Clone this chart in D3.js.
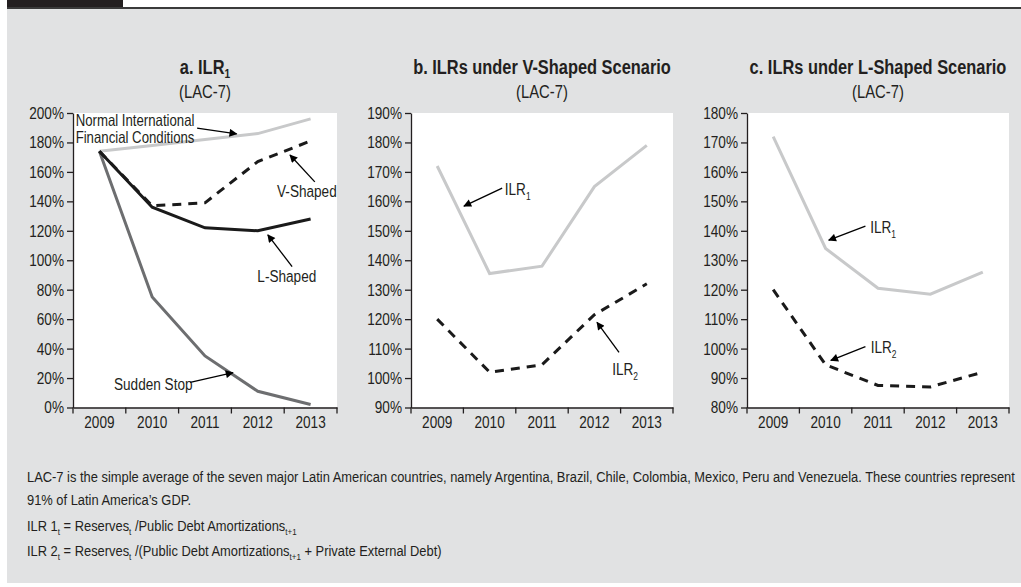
<!DOCTYPE html>
<html>
<head>
<meta charset="utf-8">
<script src="https://cdn.jsdelivr.net/npm/d3@7"></script>
<style>
  body { margin: 0; background: #fff; }
  svg text { font-family: "Liberation Sans", Arial, sans-serif; fill: #231f20; }
</style>
</head>
<body>
<script>
const years = [2009, 2010, 2011, 2012, 2013];

// panel a: ILR1 under the four scenarios
const normalA = [174, 178, 182, 186, 196];
const vShapedA = [174, 137, 139, 167, 181];
const lShapedA = [174, 136, 122, 120, 128];
const suddenStopA = [174, 75, 35, 11, 2];

// panel b: V-shaped scenario
const ilr1V = [172, 135.5, 138, 165, 179];
const ilr2V = [120, 102, 104.5, 121.5, 132];

// panel c: L-shaped scenario
const ilr1L = [172, 134, 120.5, 118.5, 126];
const ilr2L = [120, 94.5, 87.5, 87, 92];

const ticksA = [0, 20, 40, 60, 80, 100, 120, 140, 160, 180, 200];
const ticksB = [90, 100, 110, 120, 130, 140, 150, 160, 170, 180, 190];
const ticksC = [80, 90, 100, 110, 120, 130, 140, 150, 160, 170, 180];

const W = 1021, H = 587;
const svg = d3.select("body").append("svg").attr("width", W).attr("height", H);

// frame
svg.append("rect").attr("x", 7).attr("y", 9).attr("width", W - 7).attr("height", 574).attr("fill", "#e1e2e3");
svg.append("rect").attr("x", 7).attr("y", 0).attr("width", 116).attr("height", 8).attr("fill", "#231f20");
svg.append("rect").attr("x", 7).attr("y", 7).attr("width", W - 7).attr("height", 2).attr("fill", "#3a3a3a");

const defs = svg.append("defs");
defs.append("marker")
  .attr("id", "arrow")
  .attr("viewBox", "0 0 10 10")
  .attr("refX", 9).attr("refY", 5)
  .attr("markerWidth", 11).attr("markerHeight", 8)
  .attr("markerUnits", "userSpaceOnUse")
  .attr("orient", "auto")
  .append("path").attr("d", "M0,0 L10,5 L0,10 Z").attr("fill", "#000");

// text with subscripts: parts are strings or {sub: "..."}
function sub(textSel, parts, size, drop = 0.28) {
  let back = 0;
  parts.forEach(p => {
    if (typeof p === "string") {
      textSel.append("tspan").attr("dy", back ? -back : null).text(p);
      back = 0;
    } else {
      const d = Math.round(size * drop);
      textSel.append("tspan").attr("dy", d).attr("font-size", size * 0.62).text(p.sub);
      back = d;
    }
  });
}

const panels = [
  {
    title: ["a. ILR", { sub: "1" }], x0: 73, x1: 337, domain: [0, 200], ticks: ticksA,
    series: [
      { values: normalA, color: "#c8c9ca" },
      { values: suddenStopA, color: "#6d6e70" },
      { values: lShapedA, color: "#1a1a1a" },
      { values: vShapedA, color: "#1a1a1a", dash: "9,7" }
    ],
    notes: [
      { lines: ["Normal International", "Financial Conditions"], anchor: "start", tx: 2008.55, ty: [191.5, 179.7],
        from: [2010.85, 189.8], to: [2011.6, 185.8] },
      { lines: ["V-Shaped"], anchor: "middle", tx: 2012.93, ty: [143], from: [2013.08, 153.2], to: [2012.61, 171.5] },
      { lines: ["L-Shaped"], anchor: "middle", tx: 2012.55, ty: [85.4], from: [2012.65, 95.6], to: [2012.19, 117.3] },
      { lines: ["Sudden Stop"], anchor: "middle", tx: 2010.02, ty: [12.2], from: [2010.72, 17], to: [2011.53, 23.7] }
    ]
  },
  {
    title: ["b. ILRs under V-Shaped Scenario"], x0: 411, x1: 673, domain: [90, 190], ticks: ticksB,
    series: [
      { values: ilr1V, color: "#c8c9ca" },
      { values: ilr2V, color: "#1a1a1a", dash: "9,7" }
    ],
    notes: [
      { lines: [["ILR", { sub: "1" }]], anchor: "start", tx: 2010.29, ty: [162.1], from: [2010.24, 164.5], to: [2009.51, 158.4] },
      { lines: [["ILR", { sub: "2" }]], anchor: "start", tx: 2012.34, ty: [101.2], from: [2012.47, 108.7], to: [2012.05, 118.9] }
    ]
  },
  {
    title: ["c. ILRs under L-Shaped Scenario"], x0: 747, x1: 1009, domain: [80, 180], ticks: ticksC,
    series: [
      { values: ilr1L, color: "#c8c9ca" },
      { values: ilr2L, color: "#1a1a1a", dash: "9,7" }
    ],
    notes: [
      { lines: [["ILR", { sub: "1" }]], anchor: "start", tx: 2010.85, ty: [139.2], from: [2010.76, 141.6], to: [2010.06, 136.8] },
      { lines: [["ILR", { sub: "2" }]], anchor: "start", tx: 2010.86, ty: [98.4], from: [2010.76, 100.7], to: [2010.1, 96] }
    ]
  }
];

const yTop = 113, yBot = 407.5;
const K = 0.8; // horizontal squeeze to imitate the condensed face

panels.forEach(p => {
  const g = svg.append("g");
  const x = d3.scaleBand().domain(years).range([p.x0, p.x1]);
  const y = d3.scaleLinear().domain(p.domain).range([yBot, yTop]);
  // continuous year position for annotations
  const xPos = d3.scaleLinear().domain([years[0], years[years.length - 1]])
    .range([x(years[0]) + x.bandwidth() / 2, x(years[years.length - 1]) + x.bandwidth() / 2]);

  g.append("rect").attr("x", p.x0).attr("y", yTop).attr("width", p.x1 - p.x0).attr("height", yBot - yTop).attr("fill", "#fff");

  const cx = (p.x0 + p.x1) / 2;
  const t = g.append("text").attr("x", cx).attr("y", 74).attr("text-anchor", "middle")
    .attr("font-size", 20.5).attr("font-weight", "bold").attr("class", "sq");
  sub(t, p.title, 20.5, 0.18);
  g.append("text").attr("x", cx).attr("y", 98).attr("text-anchor", "middle").attr("font-size", 18.5)
    .attr("class", "sq").text("(LAC-7)");

  // y axis
  const ya = g.append("g").attr("transform", `translate(${p.x0},0)`)
    .call(d3.axisLeft(y).tickValues(p.ticks).tickFormat(d => d + "%").tickSize(6).tickSizeOuter(0));
  ya.selectAll("text").attr("font-size", 17).attr("x", -9).attr("class", "sq");
  // x axis
  const xa = g.append("g").attr("transform", `translate(0,${yBot})`)
    .call(d3.axisBottom(x).tickSize(0).tickSizeOuter(0));
  xa.selectAll("text").attr("font-size", 17).attr("dy", "1.05em").attr("class", "sq");
  const bounds = years.map(d => x(d)).concat([p.x1]);
  xa.selectAll(".bound").data(bounds).enter().append("line").attr("class", "bound")
    .attr("x1", d => d).attr("x2", d => d).attr("y1", 0).attr("y2", 6);
  g.selectAll(".domain, .tick line, .bound").attr("stroke", "#231f20").attr("stroke-width", 1.3);

  const line = d3.line().x((d, i) => x(years[i]) + x.bandwidth() / 2).y(d => y(d));
  p.series.forEach(s => {
    g.append("path").attr("d", line(s.values)).attr("fill", "none")
      .attr("stroke", s.color).attr("stroke-width", 3)
      .attr("stroke-dasharray", s.dash || null);
  });

  p.notes.forEach(n => {
    const fs = n.lines.length > 1 ? 16.5 : 17;
    n.lines.forEach((ln, i) => {
      const tt = g.append("text").attr("x", xPos(n.tx)).attr("y", y(n.ty[i]))
        .attr("text-anchor", n.anchor).attr("font-size", fs).attr("class", "sq");
      sub(tt, Array.isArray(ln) ? ln : [ln], fs);
    });
    g.append("line")
      .attr("x1", xPos(n.from[0])).attr("y1", y(n.from[1]))
      .attr("x2", xPos(n.to[0])).attr("y2", y(n.to[1]))
      .attr("stroke", "#000").attr("stroke-width", 1.3).attr("marker-end", "url(#arrow)");
  });
});

// footnotes
const fn = svg.append("g");
const f1 = fn.append("text").attr("x", 27).attr("y", 482).attr("font-size", 15.5)
  .text("LAC-7 is the simple average of the seven major Latin American countries, namely Argentina, Brazil, Chile, Colombia, Mexico, Peru and Venezuela. These countries represent");
fn.append("text").attr("x", 27).attr("y", 505).attr("font-size", 15.5).attr("class", "fn").text("91% of Latin America\u2019s GDP.");
sub(fn.append("text").attr("x", 27).attr("y", 531).attr("font-size", 15.5).attr("class", "fn"),
  ["ILR 1", { sub: "t" }, " = Reserves", { sub: "t" }, " /Public Debt Amortizations", { sub: "t+1" }], 15.5);
sub(fn.append("text").attr("x", 27).attr("y", 556).attr("font-size", 15.5).attr("class", "fn"),
  ["ILR 2", { sub: "t" }, " = Reserves", { sub: "t" }, " /(Public Debt Amortizations", { sub: "t+1" }, " + Private External Debt)"], 15.5);

// squeeze text horizontally about its x anchor
function squeeze(node, k) {
  const x = +node.getAttribute("x") || 0;
  d3.select(node).attr("transform", `translate(${x},0) scale(${k},1) translate(${-x},0)`);
}
const fk = 988 / f1.node().getComputedTextLength();
svg.selectAll("text.sq").each(function () { squeeze(this, K); });
squeeze(f1.node(), fk);
svg.selectAll("text.fn").each(function () { squeeze(this, fk); });
</script>
</body>
</html>
